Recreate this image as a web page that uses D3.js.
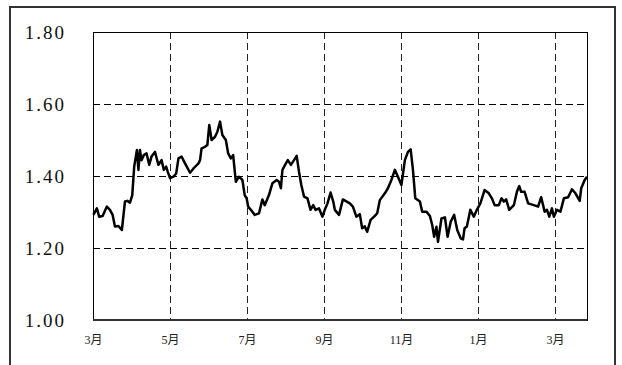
<!DOCTYPE html>
<html>
<head>
<meta charset="utf-8">
<script src="https://cdn.jsdelivr.net/npm/d3@7"></script>
<style>
  body { margin: 0; background: #fff; }
  svg { display: block; }
</style>
</head>
<body>
<div id="chart"></div>
<script>
// month offset from the first March, and the series value
const monthPos = [0.01,0.10,0.16,0.25,0.36,0.44,0.51,0.57,0.66,0.75,0.83,0.89,0.96,1.02,1.07,1.14,1.18,1.22,1.26,1.32,
  1.39,1.46,1.52,1.61,1.70,1.78,1.84,1.90,1.94,2.00,2.09,2.16,2.22,2.30,2.39,2.52,2.61,2.74,2.78,2.82,
  2.91,2.97,3.02,3.08,3.17,3.23,3.30,3.36,3.45,3.51,3.58,3.64,3.71,3.79,3.88,3.94,3.99,4.03,4.10,4.20,
  4.31,4.40,4.46,4.57,4.66,4.77,4.83,4.88,4.92,5.01,5.06,5.14,5.22,5.29,5.35,5.41,5.48,5.57,5.65,5.72,
  5.78,5.87,5.96,6.02,6.09,6.17,6.24,6.28,6.39,6.49,6.67,6.75,6.84,6.93,6.99,7.06,7.12,7.21,7.30,7.38,
  7.45,7.58,7.66,7.75,7.84,7.92,8.01,8.10,8.18,8.25,8.31,8.37,8.49,8.55,8.66,8.75,8.81,8.86,8.92,8.96,
  9.05,9.14,9.21,9.29,9.38,9.46,9.55,9.61,9.65,9.71,9.80,9.89,9.97,10.06,10.17,10.28,10.36,10.43,10.54,10.61,
  10.67,10.73,10.81,10.93,11.01,11.07,11.12,11.21,11.30,11.45,11.56,11.64,11.73,11.79,11.85,11.92,11.97,12.05,12.14,12.23,
  12.34,12.44,12.53,12.64,12.68,12.77,12.83];
const values = [1.292,1.310,1.287,1.289,1.315,1.306,1.292,1.260,1.261,1.250,1.329,1.331,1.326,1.347,1.426,1.472,1.417,1.472,1.444,1.458,
  1.463,1.431,1.454,1.467,1.431,1.444,1.417,1.426,1.412,1.394,1.398,1.407,1.449,1.454,1.435,1.409,1.421,1.435,1.444,1.477,
  1.481,1.486,1.542,1.500,1.509,1.523,1.551,1.514,1.500,1.463,1.449,1.458,1.384,1.398,1.389,1.347,1.338,1.315,1.306,1.292,
  1.296,1.335,1.319,1.347,1.380,1.389,1.384,1.366,1.417,1.435,1.444,1.431,1.444,1.456,1.412,1.375,1.343,1.338,1.306,1.319,
  1.306,1.310,1.287,1.306,1.324,1.354,1.329,1.306,1.292,1.335,1.324,1.315,1.287,1.294,1.255,1.260,1.245,1.278,1.287,1.296,
  1.333,1.352,1.366,1.389,1.417,1.398,1.375,1.444,1.467,1.474,1.417,1.338,1.329,1.301,1.301,1.289,1.264,1.231,1.259,1.217,
  1.282,1.285,1.231,1.273,1.292,1.250,1.227,1.224,1.255,1.260,1.306,1.287,1.306,1.324,1.361,1.352,1.338,1.319,1.319,1.338,
  1.329,1.335,1.306,1.319,1.356,1.372,1.356,1.356,1.324,1.319,1.315,1.341,1.301,1.306,1.287,1.310,1.287,1.306,1.301,1.338,
  1.341,1.363,1.352,1.331,1.366,1.389,1.398];

const xTickPos = [0, 2, 4, 6, 8, 10, 12];
const xTickLabels = ['3月', '5月', '7月', '9月', '11月', '1月', '3月'];
const yTicks = [1.00, 1.20, 1.40, 1.60, 1.80];

const W = 622, H = 365;
const margin = {left: 93, top: 32, right: 35, bottom: 45};
const width = W - margin.left - margin.right;
const height = H - margin.top - margin.bottom;

const data = monthPos.map((m, i) => ({m: m, v: values[i]}));

const svg = d3.select('#chart').append('svg')
    .attr('width', W)
    .attr('height', H);

// outer frame (runs past the bottom of the picture)
svg.append('rect')
    .attr('x', 10).attr('y', 7)
    .attr('width', 605).attr('height', 400)
    .attr('fill', 'none')
    .attr('stroke', '#333')
    .attr('stroke-width', 2);

const xScale = d3.scaleLinear().domain([0, 12.83]).range([0, width]);
const yScale = d3.scaleLinear().domain([1.0, 1.8]).range([height, 0]);

const chart = svg.append('g')
    .attr('transform', `translate(${margin.left}, ${margin.top})`);

// grid (half pixel shift keeps 1px lines sharp)
chart.append('g').selectAll('line')
    .data(yTicks.filter(d => d > 1.0 && d < 1.8))
    .enter().append('line')
    .attr('x1', 0).attr('x2', width)
    .attr('y1', d => Math.round(yScale(d)) + 0.5).attr('y2', d => Math.round(yScale(d)) + 0.5)
    .attr('stroke', '#000')
    .attr('stroke-width', 1)
    .attr('stroke-dasharray', '7,4');
chart.append('g').selectAll('line')
    .data(xTickPos.filter(d => d > 0))
    .enter().append('line')
    .attr('x1', d => Math.round(xScale(d)) + 0.5).attr('x2', d => Math.round(xScale(d)) + 0.5)
    .attr('y1', 0).attr('y2', height)
    .attr('stroke', '#222')
    .attr('stroke-width', 1)
    .attr('stroke-dasharray', '7,4');

// plot border
chart.append('rect')
    .attr('x', 0.5).attr('y', 0.5)
    .attr('width', width).attr('height', height)
    .attr('fill', 'none')
    .attr('stroke', '#000')
    .attr('stroke-width', 1);
chart.append('line')
    .attr('x1', 0).attr('x2', width)
    .attr('y1', height).attr('y2', height)
    .attr('stroke', '#333')
    .attr('stroke-width', 2);

// axes
const yAxis = d3.axisLeft(yScale)
    .tickValues(yTicks)
    .tickSize(0)
    .tickPadding(27)
    .tickFormat(d3.format('.2f'));
const yAxisG = chart.append('g').call(yAxis);
yAxisG.select('.domain').remove();
yAxisG.selectAll('text')
    .attr('font-family', '"Liberation Serif", "DejaVu Serif", serif')
    .attr('font-size', 19)
    .attr('letter-spacing', 2)
    .attr('fill', '#111');

const xAxis = d3.axisBottom(xScale)
    .tickValues(xTickPos)
    .tickSize(0)
    .tickPadding(15)
    .tickFormat((d, i) => xTickLabels[i]);
const xAxisG = chart.append('g')
    .attr('transform', `translate(0, ${height})`)
    .call(xAxis);
xAxisG.select('.domain').remove();
xAxisG.selectAll('text')
    .attr('font-family', '"Liberation Serif", "Noto Sans CJK JP", serif')
    .attr('font-size', 12)
    .attr('fill', '#222');

// series
const line = d3.line()
    .x(d => xScale(d.m))
    .y(d => yScale(d.v))
    .curve(d3.curveLinear);
chart.append('path')
    .datum(data)
    .attr('d', line)
    .attr('fill', 'none')
    .attr('stroke', '#000')
    .attr('stroke-width', 2.5)
    .attr('stroke-linejoin', 'round');
</script>
</body>
</html>
